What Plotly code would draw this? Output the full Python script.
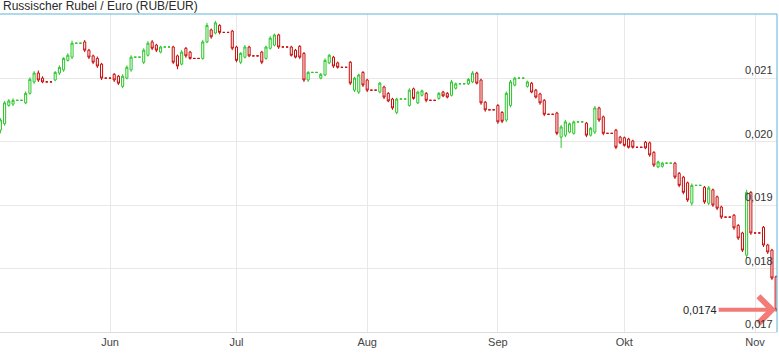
import plotly.graph_objects as go
import pandas as pd

title_text = "Russischer Rubel / Euro (RUB/EUR)"

# trading days (Mon-Fri) 2014-05-06 .. 2014-11-06
first_day = "2014-05-06"
last_day = "2014-11-06"

open_ = [
    0.02018, 0.02028, 0.02057, 0.02059, 0.02061, 0.02076, 0.02094, 0.02108, 0.02100, 0.02097,
    0.02108, 0.02113, 0.02128, 0.02133, 0.02157, 0.02144, 0.02135, 0.02131, 0.02122, 0.02106,
    0.02103, 0.02087, 0.02100, 0.02113, 0.02125, 0.02136, 0.02157, 0.02152, 0.02141, 0.02149,
    0.02135, 0.02122, 0.02147, 0.02141, 0.02131, 0.02157, 0.02176, 0.02171, 0.02183, 0.02174,
    0.02149, 0.02125, 0.02133, 0.02149, 0.02141, 0.02131, 0.02147, 0.02152, 0.02168, 0.02149,
    0.02144, 0.02150, 0.02139, 0.02097, 0.02100, 0.02105, 0.02124, 0.02133, 0.02124, 0.02125,
    0.02081, 0.02078, 0.02109, 0.02097, 0.02078, 0.02086, 0.02076, 0.02067, 0.02046, 0.02057,
    0.02083, 0.02061, 0.02073, 0.02076, 0.02068, 0.02078, 0.02076, 0.02073, 0.02084, 0.02091,
    0.02094, 0.02108, 0.02097, 0.02062, 0.02057, 0.02046, 0.02034, 0.02057, 0.02089, 0.02087,
    0.02092, 0.02081, 0.02075, 0.02065, 0.02045, 0.02007, 0.02010, 0.02015, 0.02013, 0.02029,
    0.02010, 0.02015, 0.02053, 0.02039, 0.02018, 0.02007, 0.02006, 0.02004, 0.02001, 0.01999,
    0.01998, 0.01983, 0.01960, 0.01961, 0.01966, 0.01950, 0.01944, 0.01935, 0.01903, 0.01928,
    0.01903, 0.01924, 0.01913, 0.01897, 0.01884, 0.01868, 0.01856, 0.01821, 0.01920, 0.01865,
    0.01837, 0.01829, 0.01787,
]
close = [
    0.02034, 0.02061, 0.02064, 0.02065, 0.02076, 0.02098, 0.02108, 0.02097, 0.02094, 0.02109,
    0.02117, 0.02131, 0.02136, 0.02155, 0.02144, 0.02133, 0.02125, 0.02119, 0.02100, 0.02097,
    0.02092, 0.02103, 0.02117, 0.02133, 0.02144, 0.02155, 0.02147, 0.02144, 0.02149, 0.02125,
    0.02119, 0.02141, 0.02135, 0.02131, 0.02157, 0.02183, 0.02165, 0.02187, 0.02172, 0.02147,
    0.02128, 0.02139, 0.02149, 0.02135, 0.02125, 0.02149, 0.02163, 0.02168, 0.02149, 0.02136,
    0.02133, 0.02133, 0.02097, 0.02109, 0.02106, 0.02128, 0.02136, 0.02119, 0.02117, 0.02092,
    0.02100, 0.02105, 0.02089, 0.02081, 0.02092, 0.02070, 0.02064, 0.02053, 0.02067, 0.02081,
    0.02068, 0.02078, 0.02080, 0.02065, 0.02076, 0.02072, 0.02070, 0.02094, 0.02091, 0.02098,
    0.02108, 0.02092, 0.02061, 0.02050, 0.02031, 0.02032, 0.02076, 0.02094, 0.02100, 0.02094,
    0.02078, 0.02070, 0.02061, 0.02043, 0.02013, 0.02023, 0.02031, 0.02028, 0.02031, 0.02010,
    0.02021, 0.02053, 0.02034, 0.02013, 0.01991, 0.01998, 0.01994, 0.01991, 0.01991, 0.01990,
    0.01979, 0.01963, 0.01968, 0.01966, 0.01944, 0.01931, 0.01920, 0.01908, 0.01931, 0.01905,
    0.01927, 0.01900, 0.01895, 0.01881, 0.01864, 0.01848, 0.01829, 0.01920, 0.01856, 0.01837,
    0.01826, 0.01785, 0.01735,
]
high = [
    0.02037, 0.02064, 0.02067, 0.02068, 0.02079, 0.02101, 0.02111, 0.02112, 0.02103, 0.02111,
    0.02120, 0.02133, 0.02139, 0.02159, 0.02160, 0.02146, 0.02137, 0.02134, 0.02124, 0.02108,
    0.02105, 0.02106, 0.02120, 0.02136, 0.02147, 0.02158, 0.02160, 0.02154, 0.02151, 0.02151,
    0.02137, 0.02144, 0.02149, 0.02143, 0.02160, 0.02187, 0.02178, 0.02190, 0.02185, 0.02176,
    0.02151, 0.02141, 0.02152, 0.02151, 0.02143, 0.02151, 0.02166, 0.02170, 0.02170, 0.02151,
    0.02146, 0.02152, 0.02141, 0.02111, 0.02108, 0.02131, 0.02138, 0.02135, 0.02126, 0.02127,
    0.02102, 0.02107, 0.02111, 0.02099, 0.02094, 0.02088, 0.02078, 0.02069, 0.02069, 0.02084,
    0.02085, 0.02080, 0.02082, 0.02078, 0.02078, 0.02080, 0.02078, 0.02097, 0.02093, 0.02100,
    0.02111, 0.02110, 0.02099, 0.02064, 0.02059, 0.02048, 0.02079, 0.02097, 0.02102, 0.02096,
    0.02094, 0.02083, 0.02077, 0.02067, 0.02047, 0.02026, 0.02034, 0.02030, 0.02033, 0.02031,
    0.02023, 0.02056, 0.02055, 0.02041, 0.02020, 0.02009, 0.02008, 0.02006, 0.02003, 0.02001,
    0.02000, 0.01985, 0.01970, 0.01968, 0.01968, 0.01952, 0.01946, 0.01937, 0.01934, 0.01930,
    0.01930, 0.01926, 0.01915, 0.01899, 0.01886, 0.01870, 0.01858, 0.01924, 0.01922, 0.01867,
    0.01839, 0.01831, 0.01789,
]
low = [
    0.02013, 0.02025, 0.02055, 0.02056, 0.02059, 0.02074, 0.02091, 0.02094, 0.02092, 0.02095,
    0.02105, 0.02110, 0.02126, 0.02130, 0.02141, 0.02130, 0.02122, 0.02116, 0.02097, 0.02094,
    0.02089, 0.02084, 0.02098, 0.02110, 0.02122, 0.02134, 0.02144, 0.02141, 0.02139, 0.02122,
    0.02114, 0.02120, 0.02132, 0.02129, 0.02129, 0.02155, 0.02162, 0.02169, 0.02169, 0.02144,
    0.02125, 0.02122, 0.02131, 0.02133, 0.02122, 0.02129, 0.02145, 0.02150, 0.02146, 0.02134,
    0.02131, 0.02130, 0.02094, 0.02094, 0.02098, 0.02103, 0.02122, 0.02116, 0.02115, 0.02089,
    0.02078, 0.02075, 0.02086, 0.02078, 0.02076, 0.02067, 0.02062, 0.02050, 0.02043, 0.02055,
    0.02066, 0.02059, 0.02071, 0.02062, 0.02066, 0.02070, 0.02068, 0.02071, 0.02082, 0.02089,
    0.02092, 0.02090, 0.02058, 0.02047, 0.02028, 0.02029, 0.02031, 0.02054, 0.02087, 0.02085,
    0.02076, 0.02068, 0.02058, 0.02040, 0.02010, 0.01990, 0.02007, 0.02013, 0.02011, 0.02007,
    0.02008, 0.02012, 0.02031, 0.02010, 0.01988, 0.01996, 0.01992, 0.01989, 0.01989, 0.01988,
    0.01976, 0.01960, 0.01958, 0.01959, 0.01941, 0.01928, 0.01917, 0.01905, 0.01899, 0.01902,
    0.01900, 0.01897, 0.01892, 0.01878, 0.01861, 0.01845, 0.01826, 0.01816, 0.01853, 0.01834,
    0.01823, 0.01782, 0.01732,
]

y_tick_values = [0.017, 0.018, 0.019, 0.020, 0.021]
y_tick_labels = ["0,017", "0,018", "0,019", "0,020", "0,021"]
month_ticks = ["2014-06-01", "2014-07-01", "2014-08-01", "2014-09-01", "2014-10-01", "2014-11-01"]
month_labels = ["Jun", "Jul", "Aug", "Sep", "Okt", "Nov"]
last_label = "0,0174"

trade_days = pd.bdate_range(first_day, last_day)
assert len(trade_days) == len(open_) == len(close) == len(high) == len(low)
trade_df = pd.DataFrame({"o": open_, "h": high, "l": low, "c": close}, index=trade_days)

# calendar table: weekend days are shown as flat marks at the previous close
rows = []
prev_close = None
for d in pd.date_range(first_day, last_day):
    if d in trade_df.index:
        r = trade_df.loc[d]
        rows.append((d, r.o, r.h, r.l, r.c))
        prev_close = r.c
    else:
        rows.append((d, prev_close, prev_close, prev_close, prev_close))
df = pd.DataFrame(rows, columns=["d", "o", "h", "l", "c"])

fig = go.Figure(
    go.Candlestick(
        x=df["d"], open=df["o"], high=df["h"], low=df["l"], close=df["c"],
        increasing=dict(line=dict(color="#2ac52a", width=1), fillcolor="white"),
        decreasing=dict(line=dict(color="#c80a0a", width=1), fillcolor="white"),
        whiskerwidth=0,
        showlegend=False,
        hoverinfo="skip",
    )
)

# y-axis value labels drawn inside the plot, just above their grid lines
y_label_annotations = [
    dict(text=t, x=1, y=v, xref="paper", yref="y", xanchor="right", yanchor="bottom",
         xshift=-2, yshift=0, showarrow=False, font=dict(size=11, color="#333333"))
    for v, t in zip(y_tick_values, y_tick_labels)
]

fig.update_layout(
    width=779, height=355,
    margin=dict(l=0, r=2, t=14, b=23),
    paper_bgcolor="white", plot_bgcolor="white",
    separators=",.",
    boxgap=0.3,
    font=dict(family="Liberation Sans, Arial, sans-serif", size=11, color="#333333"),
    xaxis=dict(
        type="date",
        range=["2014-05-05 21:50", "2014-11-06 04:50"],
        rangeslider=dict(visible=False),
        tickvals=month_ticks, ticktext=month_labels,
        showgrid=True, gridcolor="#e8e8e8", gridwidth=1,
        showline=True, linecolor="#dcdcdc", linewidth=1,
        ticks="", tickfont=dict(size=11, color="#444444"),
        zeroline=False, fixedrange=True,
    ),
    yaxis=dict(
        range=[0.017, 0.02201],
        side="right",
        tickvals=y_tick_values,
        showticklabels=False,
        showgrid=True, gridcolor="#e8e8e8", gridwidth=1,
        ticks="", showline=False, zeroline=False, fixedrange=True,
    ),
    shapes=[
        dict(type="line", xref="paper", yref="paper", x0=0, x1=1, y0=1, y1=1,
             line=dict(color="#5cb6d6", width=1)),
        dict(type="line", xref="paper", yref="paper", x0=1, x1=1, y0=0, y1=1,
             line=dict(color="#5cb6d6", width=1)),
    ],
    annotations=[
        dict(text=title_text, xref="paper", yref="paper", x=0, y=1, xanchor="left",
             yanchor="bottom", yshift=-1, xshift=1, showarrow=False,
             font=dict(size=12, color="#2a2a2a")),
        dict(text=last_label, x=df["d"].iloc[-1], y=df["c"].iloc[-1], xref="x", yref="y",
             showarrow=True, ax=-76, ay=0, arrowhead=4, arrowsize=1.3, arrowwidth=4,
             arrowcolor="#f47a78", font=dict(size=11, color="#222222")),
    ] + y_label_annotations,
)

fig.write_html("out.html", config={"displayModeBar": False},
               post_script="document.body.style.margin='0';")
